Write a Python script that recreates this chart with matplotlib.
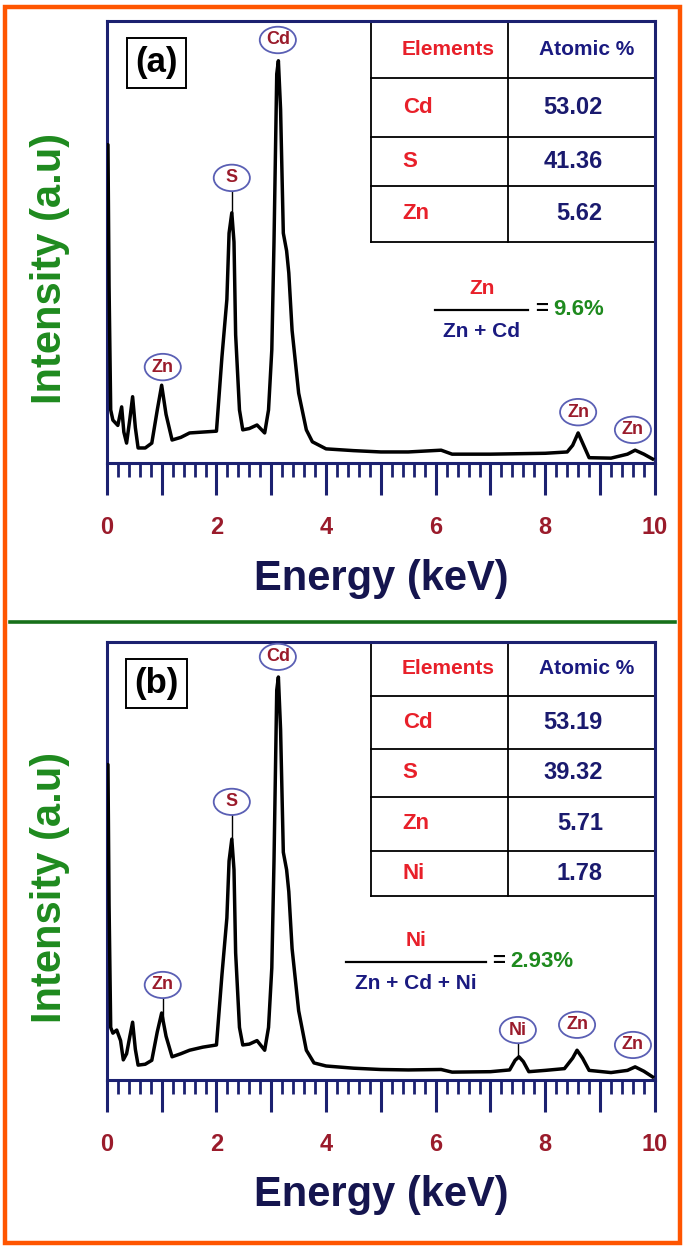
import matplotlib
matplotlib.use("Agg")
import matplotlib.pyplot as plt
import numpy as np
from matplotlib.patches import Ellipse, Rectangle
from matplotlib.lines import Line2D

plt.rcParams["font.family"] = ["Liberation Sans", "DejaVu Sans"]
plt.rcParams["font.weight"] = "bold"

# EDS spectrum (a): energy in keV, intensity in arbitrary units (0-100)
energy_a = [0.0, 0.02, 0.04, 0.07, 0.11, 0.2, 0.27, 0.31, 0.36, 0.42, 0.47, 0.52,
            0.57, 0.7, 0.82, 0.92, 1.0, 1.08, 1.19, 1.35, 1.51, 1.75, 2.0, 2.1,
            2.19, 2.23, 2.28, 2.32, 2.35, 2.42, 2.48, 2.6, 2.74, 2.88, 2.95, 3.01,
            3.05, 3.1, 3.13, 3.17, 3.22, 3.28, 3.32, 3.38, 3.5, 3.64, 3.75, 4.0,
            4.5, 5.0, 5.5, 6.1, 6.3, 7.0, 8.0, 8.4, 8.5, 8.6, 8.7, 8.8, 9.2, 9.5,
            9.64, 9.8, 9.96]
counts_a = [72, 72, 40, 12, 9.7, 8.5, 12.7, 7, 4.5, 10, 15, 8,
            3.4, 3.4, 4.5, 12, 17.6, 11, 5.2, 5.8, 6.8, 7, 7.2, 24,
            37, 52, 56.6, 50, 29, 12, 7.5, 7.8, 8.6, 6.8, 12, 25.6,
            50, 88, 91, 80, 52, 48, 43, 30, 15.8, 7.5, 4.8, 3.2,
            2.8, 2.5, 2.5, 2.9, 2.0, 2.0, 2.2, 2.5, 4.0, 6.8, 4.0, 1.2, 1.1, 2.0,
            2.9, 2.0, 0.9]

# EDS spectrum (b)
energy_b = [0.0, 0.02, 0.04, 0.07, 0.11, 0.18, 0.25, 0.3, 0.36, 0.42, 0.47, 0.52,
            0.57, 0.7, 0.82, 0.92, 1.0, 1.08, 1.19, 1.35, 1.51, 1.75, 2.0, 2.1,
            2.19, 2.23, 2.28, 2.32, 2.35, 2.42, 2.48, 2.6, 2.74, 2.88, 2.95, 3.01,
            3.05, 3.1, 3.13, 3.17, 3.22, 3.28, 3.32, 3.38, 3.5, 3.64, 3.78, 4.0,
            4.5, 5.0, 5.5, 6.1, 6.3, 7.0, 7.35, 7.45, 7.52, 7.6, 7.7, 8.0, 8.35,
            8.5, 8.58, 8.68, 8.8, 9.2, 9.5, 9.64, 9.8, 9.96]
counts_b = [72, 72, 40, 12, 10.7, 11.4, 9, 4.6, 6, 10, 13.2, 7,
            3.4, 3.6, 4.5, 11, 15.3, 10, 5.3, 6, 6.8, 7.5, 8, 24,
            37, 50, 55, 48, 29, 12, 8, 8.2, 9, 6.8, 12, 25.6,
            50, 89, 92, 80, 52, 48, 43, 30, 15.8, 6.8, 3.9, 3.2,
            2.7, 2.4, 2.3, 2.4, 1.8, 1.9, 2.3, 4.5, 5.3, 4.2, 1.9, 2.2, 2.6,
            5.0, 6.8, 5.0, 2.2, 1.7, 2.2, 3.0, 2.0, 0.7]

# peak labels
peak_names_a = ["Cd", "S", "Zn", "Zn", "Zn"]
peak_energy_a = [3.12, 2.28, 1.02, 8.6, 9.6]
peak_label_y_a = [95.7, 64.5, 21.7, 11.5, 7.5]

peak_names_b = ["Cd", "S", "Zn", "Ni", "Zn", "Zn"]
peak_energy_b = [3.12, 2.28, 1.02, 7.5, 8.58, 9.6]
peak_label_y_b = [96.6, 63.5, 21.7, 11.4, 12.6, 8.0]

# composition tables
elements_a = ["Cd", "S", "Zn"]
atomic_a = ["53.02", "41.36", "5.62"]
elements_b = ["Cd", "S", "Zn", "Ni"]
atomic_b = ["53.19", "39.32", "5.71", "1.78"]

major_ticks = list(range(11))
tick_labels = ["0", "", "2", "", "4", "", "6", "", "8", "", "10"]
minor_ticks = [i / 5 for i in range(51) if i % 5 != 0]

NAVY = "#1c2170"
DARKNAVY = "#15154f"
RED = "#e8202a"
DARKRED = "#9a1b2b"
GREEN = "#1e8a1e"
ORANGE = "#ff5500"


def draw_panel(ax, energy, counts, names, pe, py, elements, atomic, row_lines,
               tag, num, den, result, frac_xy, frac_width):
    ax.plot(energy, counts, color="black", lw=2.5, solid_joinstyle="round",
            zorder=3)
    ax.set_xlim(0, 10)
    ax.set_ylim(0, 100)
    ax.set_yticks([])
    ax.set_xticks(major_ticks)
    ax.set_xticklabels(tick_labels)
    ax.set_xticks(minor_ticks, minor=True)
    ax.tick_params(axis="x", which="major", direction="out", length=23,
                   width=2.2, color=NAVY, labelcolor=DARKRED, labelsize=17,
                   pad=15)
    ax.tick_params(axis="x", which="minor", direction="out", length=10,
                   width=2.0, color=NAVY)
    for s in ax.spines.values():
        s.set_color(NAVY)
        s.set_linewidth(2.2)
    ax.set_xlabel("Energy (keV)", fontsize=30, color=DARKNAVY,
                  fontweight="bold")
    ax.xaxis.set_label_coords(0.5, -0.218)
    ax.set_ylabel("Intensity (a.u)", fontsize=30, color=GREEN,
                  fontweight="bold")
    ax.yaxis.set_label_coords(-0.068, 0.44)

    # peak labels
    for name, e, y in zip(names, pe, py):
        peak = np.interp(e, energy, counts)
        if y - 3 - peak > 3:
            ax.plot([e, e], [peak, y - 3], color="black", lw=1.0, zorder=2)
        ax.add_patch(Ellipse((e, y), 0.66, 6.0, facecolor="white",
                             edgecolor="#5a5fb4", lw=1.3, zorder=4))
        ax.text(e, y, name, ha="center", va="center", fontsize=13,
                color=DARKRED, fontweight="bold", zorder=5)

    # composition table
    tr = ax.transAxes
    x0, xm, x1 = 0.482, 0.732, 1.0
    for yl in row_lines[1:]:
        ax.add_line(Line2D([x0, x1], [yl, yl], color="black", lw=1.3,
                           transform=tr, zorder=2))
    for xl in (x0, xm):
        ax.add_line(Line2D([xl, xl], [row_lines[0], row_lines[-1]],
                           color="black", lw=1.3, transform=tr, zorder=2))
    yc = (row_lines[0] + row_lines[1]) / 2
    ax.text(0.622, yc, "Elements", transform=tr, ha="center", va="center",
            fontsize=15, color=RED)
    ax.text(0.876, yc, "Atomic %", transform=tr, ha="center", va="center",
            fontsize=15, color="#1a1a80")
    for i, (el, val) in enumerate(zip(elements, atomic)):
        yc = (row_lines[i + 1] + row_lines[i + 2]) / 2
        ax.text(0.540, yc, el, transform=tr, ha="left", va="center",
                fontsize=16, color=RED)
        ax.text(0.905, yc, val, transform=tr, ha="right",
                va="center", fontsize=17, color="#1a1a6e")

    # sample tag
    ax.text(0.091, 0.905, tag, transform=tr, ha="center", va="center",
            fontsize=25, color="black",
            bbox=dict(boxstyle="square,pad=0.24", facecolor="white",
                      edgecolor="black", lw=1.4))

    # ratio
    fx, fy = frac_xy
    ax.add_line(Line2D([fx - frac_width / 2, fx + frac_width / 2], [fy, fy],
                       color="black", lw=1.6, transform=tr))
    ax.text(fx, fy + 0.027, num, transform=tr, ha="center", va="bottom",
            fontsize=15, color=RED)
    ax.text(fx, fy - 0.027, den, transform=tr, ha="center", va="top",
            fontsize=15, color="#1a1a80")
    ax.text(fx + frac_width / 2 + 0.012, fy, "=", transform=tr, ha="left",
            va="center", fontsize=16, color="black")
    ax.text(fx + frac_width / 2 + 0.045, fy, result, transform=tr, ha="left",
            va="center", fontsize=16, color=GREEN)


fig = plt.figure(figsize=(6.85, 12.49), dpi=100)
ax_a = fig.add_axes([0.156, 0.6293, 0.800, 0.3539])
ax_b = fig.add_axes([0.156, 0.1353, 0.800, 0.3507])

draw_panel(ax_a, energy_a, counts_a, peak_names_a, peak_energy_a,
           peak_label_y_a, elements_a, atomic_a,
           [1.0, 0.871, 0.7376, 0.6267, 0.5], "(a)", "Zn", "Zn + Cd", "9.6%",
           (0.684, 0.347), 0.17)
draw_panel(ax_b, energy_b, counts_b, peak_names_b, peak_energy_b,
           peak_label_y_b, elements_b, atomic_b,
           [1.0, 0.877, 0.756, 0.646, 0.523, 0.42], "(b)", "Ni",
           "Zn + Cd + Ni", "2.93%", (0.564, 0.27), 0.255)

# outer frame and separator
fig.patches.append(Rectangle((0.008, 0.0045), 0.984, 0.99, transform=fig.transFigure,
                             fill=False, edgecolor=ORANGE, lw=3.2))
fig.lines.append(Line2D([0.014, 0.986], [0.502, 0.502], transform=fig.transFigure,
                        color="#17701a", lw=2.6))

fig.savefig("out.png", dpi=100, facecolor="white")
